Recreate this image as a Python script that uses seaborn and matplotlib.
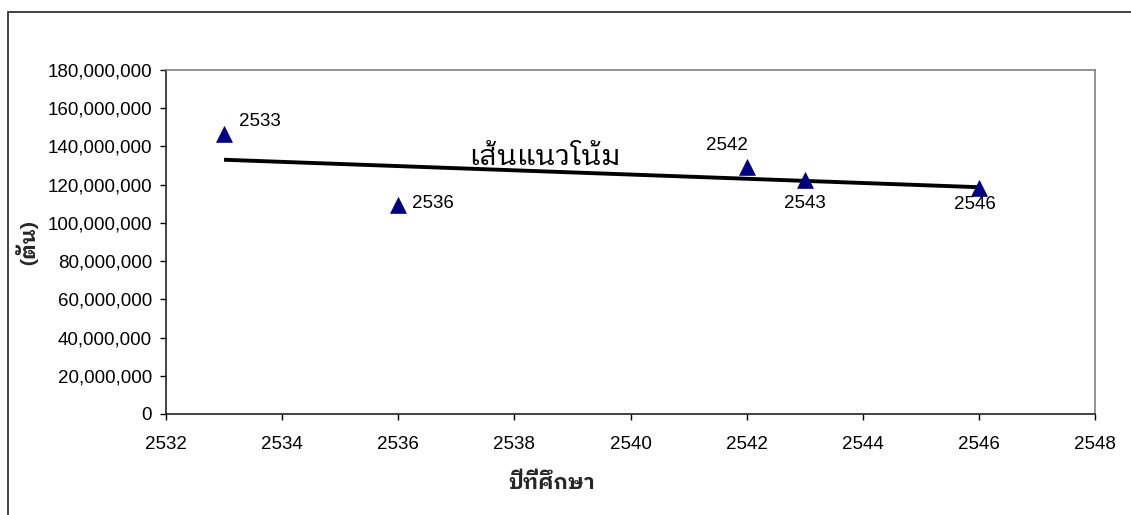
import numpy as np
import pandas as pd
import matplotlib
matplotlib.use("Agg")
import matplotlib.pyplot as plt
import seaborn as sns
from matplotlib import font_manager as fm
from matplotlib.ft2font import FT2Font
from matplotlib.ticker import FuncFormatter
from matplotlib.patches import Rectangle

# ---- data ----
years = [2533, 2536, 2542, 2543, 2546]
tons = [146_500_000, 109_500_000, 129_500_000, 122_500_000, 118_500_000]
point_labels = ["2533", "2536", "2542", "2543", "2546"]
x_ticks = [2532, 2534, 2536, 2538, 2540, 2542, 2544, 2546, 2548]
y_ticks = [0, 20e6, 40e6, 60e6, 80e6, 100e6, 120e6, 140e6, 160e6, 180e6]
trend_label = "เส้นแนวโน้ม"
x_label = "ปีที่ศึกษา"
y_label = "(ตัน)"

df = pd.DataFrame({"year": years, "tons": tons})

sns.set_theme(style="white")


def find_thai_font():
    cands = []
    for f in fm.fontManager.ttflist:
        try:
            cm = FT2Font(f.fname).get_charmap()
        except Exception:
            continue
        if 0x0E40 in cm and 0x0E49 in cm and 0x0E31 in cm:
            cands.append(f.name)
    for key in ("Looped", "Thai"):
        pref = [n for n in cands if key in n]
        if pref:
            return pref[0]
    return cands[0] if cands else None


thai = find_thai_font()
plt.rcParams["font.family"] = ["Liberation Sans"] + ([thai] if thai else []) + ["DejaVu Sans"]
thai_fams = ([thai] if thai else []) + ["Liberation Sans", "DejaVu Sans"]

FS = 13.5

fig = plt.figure(figsize=(11.31, 5.15), dpi=100)
ax = fig.add_axes([166 / 1131, 1 - 414 / 515, (1095 - 166) / 1131, (414 - 70) / 515])

sns.regplot(data=df, x="year", y="tons", scatter=False, ci=None, truncate=True,
            color="black", line_kws={"linewidth": 2.8, "solid_capstyle": "butt"}, ax=ax)
sns.scatterplot(data=df, x="year", y="tons", marker="^", s=130, color="#000080",
                edgecolor="#000080", linewidth=0.5, ax=ax, zorder=3)

offsets = {
    "2533": (11, 9, "left", "center"),
    "2536": (10, 1, "left", "center"),
    "2542": (-14, 15, "center", "center"),
    "2543": (0, -17, "center", "center"),
    "2546": (-3, -12, "center", "center"),
}
for xv, yv, lab in zip(years, tons, point_labels):
    dx, dy, ha, va = offsets[lab]
    ax.annotate(lab, (xv, yv), xytext=(dx, dy), textcoords="offset points",
                ha=ha, va=va, fontsize=FS, color="black")

ax.text(2537.22, 130.2e6, trend_label, fontsize=21, ha="left", va="baseline",
        family=thai_fams, color="black")

ax.set_xlim(2532, 2548)
ax.set_ylim(0, 180e6)
ax.set_xticks(x_ticks)
ax.set_yticks(y_ticks)
ax.yaxis.set_major_formatter(FuncFormatter(lambda v, p: f"{v:,.0f}"))
ax.xaxis.set_major_formatter(FuncFormatter(lambda v, p: f"{v:.0f}"))
ax.tick_params(axis="both", which="major", direction="out", length=4, width=1,
               labelsize=FS, colors="black", bottom=True, left=True)
ax.tick_params(axis="x", pad=12)
ax.tick_params(axis="y", pad=6)

ax.set_xlabel(x_label, fontsize=15, fontweight="bold", family=thai_fams,
              va="center", ha="center")
ax.set_ylabel(y_label, fontsize=15, fontweight="bold", family=thai_fams,
              va="center", ha="center", rotation_mode="anchor")
ax.xaxis.set_label_coords((552 - 166) / 929, -(483 - 414) / 344)
ax.yaxis.set_label_coords((28 - 166) / 929, (414 - 243) / 344)

for side in ["left", "bottom"]:
    ax.spines[side].set_color("#222222")
    ax.spines[side].set_linewidth(1.2)
for side in ["top", "right"]:
    ax.spines[side].set_color("#808080")
    ax.spines[side].set_linewidth(1.2)
    ax.spines[side].set_visible(True)

fig.patches.append(Rectangle((8 / 1131, -0.05), 1.2, 1 - 12 / 515 + 0.05,
                             transform=fig.transFigure, fill=False,
                             edgecolor="#222222", linewidth=1.2, zorder=0))

fig.savefig("out.png", dpi=100, facecolor="white")
